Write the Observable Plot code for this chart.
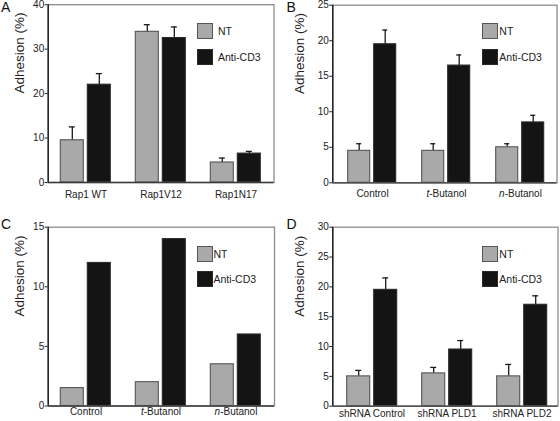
<!DOCTYPE html>
<html>
<head>
<meta charset="utf-8">
<script src="https://cdn.jsdelivr.net/npm/d3@7"></script>
<script src="https://cdn.jsdelivr.net/npm/@observablehq/plot@0.6"></script>
<style>
  html, body { margin: 0; padding: 0; background: #fff; }
  #root { position: relative; width: 560px; height: 421px; background: #fff; font-family: "Liberation Sans", Arial, sans-serif; color: #222; overflow: hidden; }
  .layer { position: absolute; }
  .letter { position: absolute; font-size: 14px; line-height: 14px; color: #111; }
  .lg { position: absolute; font-size: 10.5px; color: #222; }
  .sw { position: absolute; width: 14px; height: 14px; }
</style>
</head>
<body>
<div id="root"></div>
<script>
// ---- data ----
const series = ["NT", "Anti-CD3"];
const seriesFill = ["#a9a9a9", "#141414"];
const seriesStroke = ["#555555", "#2a2a2a"];

const catsA = ["Rap1 WT", "Rap1V12", "Rap1N17"];
const ntA = [9.5, 33.9, 4.5];
const ntErrA = [3.0, 1.6, 1.0];
const cd3A = [22.0, 32.5, 6.5];
const cd3ErrA = [2.5, 2.5, 0.5];
const ticksA = [0, 10, 20, 30, 40];

const catsB = ["Control", "t-Butanol", "n-Butanol"];
const ntB = [4.5, 4.5, 5.0];
const ntErrB = [1.0, 1.0, 0.5];
const cd3B = [19.5, 16.5, 8.5];
const cd3ErrB = [2.0, 1.5, 1.0];
const ticksB = [0, 5, 10, 15, 20, 25];

const catsC = ["Control", "t-Butanol", "n-Butanol"];
const ntC = [1.5, 2.0, 3.5];
const cd3C = [12.0, 14.0, 6.0];
const ticksC = [0, 5, 10, 15];

const catsD = ["shRNA Control", "shRNA PLD1", "shRNA PLD2"];
const ntD = [5.0, 5.5, 5.0];
const ntErrD = [1.0, 1.0, 2.0];
const cd3D = [19.5, 9.5, 17.0];
const cd3ErrD = [2.0, 1.5, 1.5];
const ticksD = [0, 5, 10, 15, 20, 25, 30];

const yLabel = "Adhesion (%)";
const FONT = "'Liberation Sans', Arial, sans-serif";

const root = document.getElementById("root");

function panel(cfg) {
  const {letter, px, py, w, h, cats, nt, ntErr, cd3, cd3Err, ticks, m, align, fxPad, leg, letterPos} = cfg;
  const rows = [];
  cats.forEach((c, i) => {
    rows.push({cat: c, s: series[0], v: nt[i], e: ntErr ? ntErr[i] : null});
    rows.push({cat: c, s: series[1], v: cd3[i], e: cd3Err ? cd3Err[i] : null});
  });
  const errRows = rows.filter(d => d.e != null);
  const ymax = ticks[ticks.length - 1];
  const common = {
    width: w, height: h,
    marginLeft: m.l, marginRight: m.r, marginTop: m.t, marginBottom: m.b,
    style: {background: "transparent", fontFamily: FONT, fontSize: "10px", color: "#222", overflow: "visible"}
  };
  const main = Plot.plot({
    ...common,
    fx: {domain: cats, paddingInner: 0.32, paddingOuter: 0.155, align, label: null, axis: "bottom", tickSize: 0, tickPadding: fxPad},
    x: {domain: series, paddingInner: 0.143, paddingOuter: 0, axis: null},
    y: {domain: [0, ymax], axis: null},
    color: {domain: series, range: seriesFill},
    marks: [
      Plot.ruleX(errRows, {fx: "cat", x: "s", y1: "v", y2: d => d.v + d.e, stroke: "#1a1a1a", strokeWidth: 1.3}),
      Plot.tickY(errRows, {fx: "cat", x: "s", y: d => d.v + d.e, insetLeft: 8.5, insetRight: 8.5, stroke: "#1a1a1a", strokeWidth: 1.3}),
      Plot.barY(rows, {fx: "cat", x: "s", y1: 0, y2: "v", fill: "s",
        stroke: d => seriesStroke[series.indexOf(d.s)], strokeWidth: 1.1})
    ]
  });
  // italic prefixes (t-, n-)
  main.querySelectorAll("text").forEach(t => {
    const s = t.textContent;
    if (/^[tn]-/.test(s)) {
      t.textContent = "";
      const ns = "http://www.w3.org/2000/svg";
      const a = document.createElementNS(ns, "tspan");
      a.setAttribute("font-style", "italic");
      a.textContent = s[0];
      const b = document.createElementNS(ns, "tspan");
      b.textContent = s.slice(1);
      t.appendChild(a); t.appendChild(b);
    }
  });
  const over = Plot.plot({
    ...common,
    x: {domain: [0, 1], axis: null},
    y: {domain: [0, ymax], ticks: ticks, tickSize: 3, tickPadding: 1, label: null, tickFormat: d => String(d)},
    marks: [
      Plot.frame({stroke: "#8c8c8c", strokeWidth: 1.3}),
      Plot.ruleX([0], {stroke: "#111", strokeWidth: 1.3}),
      Plot.ruleY([0], {stroke: "#3a3a3a", strokeWidth: 1.3}),
      Plot.text([yLabel], {text: d => d, frameAnchor: "left", rotate: -90, dx: -(m.l - 19), fontSize: 13.5, fill: "#222"})
    ]
  });
  const wrap = document.createElement("div");
  wrap.className = "layer";
  wrap.style.left = px + "px"; wrap.style.top = py + "px";
  wrap.style.width = w + "px"; wrap.style.height = h + "px";
  main.style.position = "absolute"; main.style.left = "0"; main.style.top = "0";
  over.style.position = "absolute"; over.style.left = "0"; over.style.top = "0";
  wrap.appendChild(main); wrap.appendChild(over);
  // legend
  series.forEach((s, i) => {
    const sw = document.createElement("div");
    sw.className = "sw";
    sw.style.left = leg.sx + "px"; sw.style.top = leg.sy[i] + "px";
    sw.style.background = seriesFill[i];
    sw.style.border = "1px solid " + seriesStroke[i];
    wrap.appendChild(sw);
    const tx = document.createElement("div");
    tx.className = "lg";
    tx.textContent = s;
    tx.style.left = leg.tx + "px";
    tx.style.top = (leg.sy[i] + 2) + "px";
    tx.style.lineHeight = "12px";
    wrap.appendChild(tx);
  });
  const L = document.createElement("div");
  L.className = "letter";
  L.textContent = letter;
  L.style.left = letterPos[0] + "px"; L.style.top = letterPos[1] + "px";
  wrap.appendChild(L);
  root.appendChild(wrap);
}

panel({letter: "A", px: 0, py: 0, w: 280, h: 210, cats: catsA, nt: ntA, ntErr: ntErrA, cd3: cd3A, cd3Err: cd3ErrA, ticks: ticksA,
  m: {l: 47.7, r: 6.5, t: 4.2, b: 28}, align: 0.5, fxPad: 8,
  leg: {sx: 196.7, sy: [23.3, 48.7], tx: 218}, letterPos: [1, 0]});
panel({letter: "B", px: 280, py: 0, w: 280, h: 210, cats: catsB, nt: ntB, ntErr: ntErrB, cd3: cd3B, cd3Err: cd3ErrB, ticks: ticksB,
  m: {l: 52.3, r: 3.5, t: 4.7, b: 27.7}, align: 0.58, fxPad: 7.5,
  leg: {sx: 202, sy: [23, 48.7], tx: 219.3}, letterPos: [6.5, 0]});
panel({letter: "C", px: 0, py: 210, w: 280, h: 211, cats: catsC, nt: ntC, ntErr: null, cd3: cd3C, cd3Err: null, ticks: ticksC,
  m: {l: 47.7, r: 6, t: 16.7, b: 15.5}, align: 0.5, fxPad: 2,
  leg: {sx: 196.7, sy: [35.7, 60.7], tx: 213.5}, letterPos: [1, 6.5]});
panel({letter: "D", px: 280, py: 210, w: 280, h: 211, cats: catsD, nt: ntD, ntErr: ntErrD, cd3: cd3D, cd3Err: cd3ErrD, ticks: ticksD,
  m: {l: 52.3, r: 2.5, t: 16.7, b: 15.3}, align: 0.55, fxPad: 3.5,
  leg: {sx: 202.3, sy: [36, 60.7], tx: 219.3}, letterPos: [6.5, 7]});
</script>
</body>
</html>
